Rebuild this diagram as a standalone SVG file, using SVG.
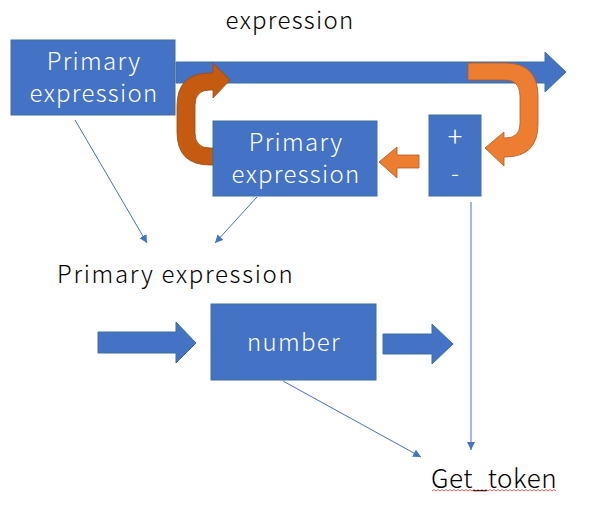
<svg xmlns="http://www.w3.org/2000/svg" width="589" height="519" viewBox="0 0 589 519">
<defs>
<style>
.box{fill:#4472C4;stroke:#41719C;stroke-width:1}
.wt{fill:#FFFFFF;font-family:"Noto Sans CJK JP","Noto Sans",sans-serif;font-size:24px;font-weight:300;letter-spacing:1.3px;text-anchor:middle}
.bt{fill:#000000;font-family:"Noto Sans CJK JP","Noto Sans",sans-serif;font-size:24px;font-weight:300;letter-spacing:1.3px}
.blk{fill:#4472C4;stroke:#41719C;stroke-width:1}
.or{fill:#ED7D31;stroke:#AE5A21;stroke-width:0.8}
.dor{fill:#C55A11;stroke:#9C4610;stroke-width:0.8}
.ln{stroke:#4472C4;stroke-width:1;fill:none;marker-end:url(#ah)}
</style>
<marker id="ah" viewBox="0 0 10 10" refX="10" refY="5" markerWidth="8" markerHeight="8" markerUnits="userSpaceOnUse" orient="auto">
<path d="M0,0 L10,5 L0,10 Z" fill="#4472C4"/>
</marker>
</defs>

<text class="bt" x="290" y="29" text-anchor="middle">expression</text>

<g id="main-arrow">
<path class="blk" d="M176,62 L545,62 L545,52 L566,72 L545,92 L545,83 L176,83 Z"/>
</g>

<g id="loop-back">
<path class="or" d="M468,63 L505,63 Q538,63 538,96 L538,124 Q538,157 505,157 L504,157 L504,166 L485,148 L504,132 L504,138 L505,138 Q520,138 520,124 L520,96 Q520,80 505,80 L468,80 Z"/>
</g>

<g id="loop-return">
<path class="dor" d="M213,148 L210,148 Q195,148 195,133 L195,105 Q195,90 210,90 L213,90 L213,98 L230,80 L213,63 L213,73 L210,73 Q177,73 177,106 L177,132 Q177,165 210,165 L213,165 Z"/>
</g>

<g id="box-primary1">
<rect class="box" x="11" y="40" width="164" height="75"/>
<text class="wt" x="94" y="70">Primary</text>
<text class="wt" x="94" y="102">expression</text>
</g>

<g id="box-primary2">
<rect class="box" x="213" y="121" width="164" height="75"/>
<text class="wt" x="296" y="151">Primary</text>
<text class="wt" x="296" y="183">expression</text>
</g>

<g id="box-op">
<rect class="box" x="429" y="115" width="52" height="81"/>
<text class="wt" x="455" y="147" style="font-size:28px;letter-spacing:0">+</text>
<text class="wt" x="455" y="182" style="letter-spacing:0">-</text>
</g>

<g id="small-arrow">
<path class="or" d="M419,155 L397,155 L397,147 L379,162 L397,178 L397,168 L419,168 Z"/>
</g>

<text class="bt" x="57" y="283" style="letter-spacing:1.7px">Primary expression</text>

<g id="in-arrow">
<path class="blk" d="M98,332 L176,332 L176,322 L196,343 L176,363 L176,353 L98,353 Z"/>
</g>

<g id="box-number">
<rect class="box" x="211" y="304" width="165" height="76"/>
<text class="wt" x="294" y="351">number</text>
</g>

<g id="out-arrow">
<path class="blk" d="M383,334 L432,334 L432,324 L453,344 L432,364 L432,354 L383,354 Z"/>
</g>

<g id="get-token">
<text class="bt" x="431" y="488" style="font-size:26px;letter-spacing:0.5px">Get_token</text>
<path d="M432,491 l2,-1.5 l2,1.5 l2,-1.5 l2,1.5 l2,-1.5 l2,1.5 l2,-1.5 l2,1.5 l2,-1.5 l2,1.5 l2,-1.5 l2,1.5 l2,-1.5 l2,1.5 l2,-1.5 l2,1.5 l2,-1.5 l2,1.5 l2,-1.5 l2,1.5 l2,-1.5 l2,1.5 l2,-1.5 l2,1.5 l2,-1.5 l2,1.5 l2,-1.5 l2,1.5 l2,-1.5 l2,1.5 l2,-1.5 l2,1.5 l2,-1.5 l2,1.5 l2,-1.5 l2,1.5 l2,-1.5 l2,1.5 l2,-1.5 l2,1.5 l2,-1.5 l2,1.5 l2,-1.5 l2,1.5 l2,-1.5 l2,1.5 l2,-1.5 l2,1.5 l2,-1.5 l2,1.5 l2,-1.5 l2,1.5 l2,-1.5 l2,1.5 l2,-1.5 l2,1.5 l2,-1.5 l2,1.5 l2,-1.5 l2,1.5 l2,-1.5 l2,1.5" fill="none" stroke="#E02020" stroke-width="0.7"/>
</g>

<g id="connectors">
<line class="ln" x1="75" y1="120" x2="147" y2="243"/>
<line class="ln" x1="257" y1="197" x2="215" y2="243"/>
<line class="ln" x1="471" y1="202" x2="471" y2="450"/>
<line class="ln" x1="283" y1="381" x2="421" y2="457"/>
</g>
</svg>
